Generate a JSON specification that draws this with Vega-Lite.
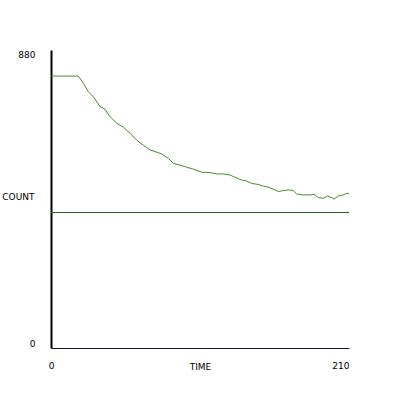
{
  "$schema": "https://vega.github.io/schema/vega-lite/v6.json",
  "width": 298,
  "height": 298,
  "autosize": {"type": "none"},
  "padding": {"left": 51, "top": 50, "right": 51, "bottom": 52},
  "background": "white",
  "config": {
    "view": {"stroke": null},
    "axis": {
      "grid": false,
      "ticks": false,
      "labelFont": "DejaVu Sans",
      "labelFontSize": 9,
      "labelColor": "#000000",
      "titleFont": "DejaVu Sans",
      "titleFontSize": 9,
      "titleFontWeight": "normal",
      "titleColor": "#000000"
    }
  },
  "data": {
    "values": [
      {"series": "count", "time": 0, "count": 803},
      {"series": "count", "time": 19.2, "count": 803},
      {"series": "count", "time": 22.8, "count": 782},
      {"series": "count", "time": 26.3, "count": 757},
      {"series": "count", "time": 29.8, "count": 742},
      {"series": "count", "time": 34.5, "count": 713},
      {"series": "count", "time": 38.1, "count": 705},
      {"series": "count", "time": 41.6, "count": 683},
      {"series": "count", "time": 46.3, "count": 664},
      {"series": "count", "time": 51.0, "count": 652},
      {"series": "count", "time": 55.7, "count": 634},
      {"series": "count", "time": 60.4, "count": 614},
      {"series": "count", "time": 65.0, "count": 599},
      {"series": "count", "time": 69.8, "count": 585},
      {"series": "count", "time": 73.3, "count": 580},
      {"series": "count", "time": 78.0, "count": 573},
      {"series": "count", "time": 82.7, "count": 560},
      {"series": "count", "time": 86.2, "count": 545},
      {"series": "count", "time": 90.9, "count": 540},
      {"series": "count", "time": 95.6, "count": 534},
      {"series": "count", "time": 100.3, "count": 528},
      {"series": "count", "time": 106.2, "count": 519},
      {"series": "count", "time": 112.0, "count": 518},
      {"series": "count", "time": 116.8, "count": 514},
      {"series": "count", "time": 121.4, "count": 514},
      {"series": "count", "time": 126.1, "count": 511},
      {"series": "count", "time": 129.7, "count": 504},
      {"series": "count", "time": 134.4, "count": 496},
      {"series": "count", "time": 137.9, "count": 493},
      {"series": "count", "time": 141.4, "count": 486},
      {"series": "count", "time": 146.1, "count": 483},
      {"series": "count", "time": 149.6, "count": 478},
      {"series": "count", "time": 153.1, "count": 475},
      {"series": "count", "time": 157.9, "count": 467},
      {"series": "count", "time": 160.2, "count": 462},
      {"series": "count", "time": 162.6, "count": 464},
      {"series": "count", "time": 167.2, "count": 467},
      {"series": "count", "time": 170.7, "count": 465},
      {"series": "count", "time": 173.1, "count": 455},
      {"series": "count", "time": 177.8, "count": 452},
      {"series": "count", "time": 182.5, "count": 452},
      {"series": "count", "time": 185.5, "count": 454},
      {"series": "count", "time": 188.4, "count": 444},
      {"series": "count", "time": 191.9, "count": 442},
      {"series": "count", "time": 195.0, "count": 449},
      {"series": "count", "time": 197.8, "count": 444},
      {"series": "count", "time": 199.6, "count": 440},
      {"series": "count", "time": 202.5, "count": 449},
      {"series": "count", "time": 206.0, "count": 452},
      {"series": "count", "time": 208.4, "count": 457},
      {"series": "count", "time": 210, "count": 456},
      {"series": "threshold", "time": 0, "count": 400},
      {"series": "threshold", "time": 210, "count": 400}
    ]
  },
  "mark": {"type": "line", "strokeWidth": 1},
  "encoding": {
    "x": {
      "field": "time",
      "type": "quantitative",
      "scale": {"domain": [0, 210], "nice": false, "zero": false},
      "axis": {
        "title": "TIME",
        "values": [0, 210],
        "labelFlush": false,
        "labelAlign": {"condition": {"test": "datum.value == 0", "value": "center"}, "value": "right"},
        "labelPadding": 13,
        "domainColor": "#10104a",
        "domainWidth": 1,
        "titleBaseline": "top",
        "titleY": 14,
        "titleX": 149
      }
    },
    "y": {
      "field": "count",
      "type": "quantitative",
      "scale": {"domain": [0, 880], "nice": false},
      "axis": {
        "title": "COUNT",
        "values": [0, 880],
        "labelFlush": true,
        "labelPadding": 16,
        "domainColor": "#000000",
        "domainWidth": 2,
        "titleAngle": 0,
        "titleAlign": "right",
        "titleBaseline": "middle",
        "titleX": -17,
        "titleY": 146
      }
    },
    "color": {
      "field": "series",
      "type": "nominal",
      "scale": {"domain": ["count", "threshold"], "range": ["#4a8a2a", "#2d5a1a"]},
      "legend": null
    }
  }
}
